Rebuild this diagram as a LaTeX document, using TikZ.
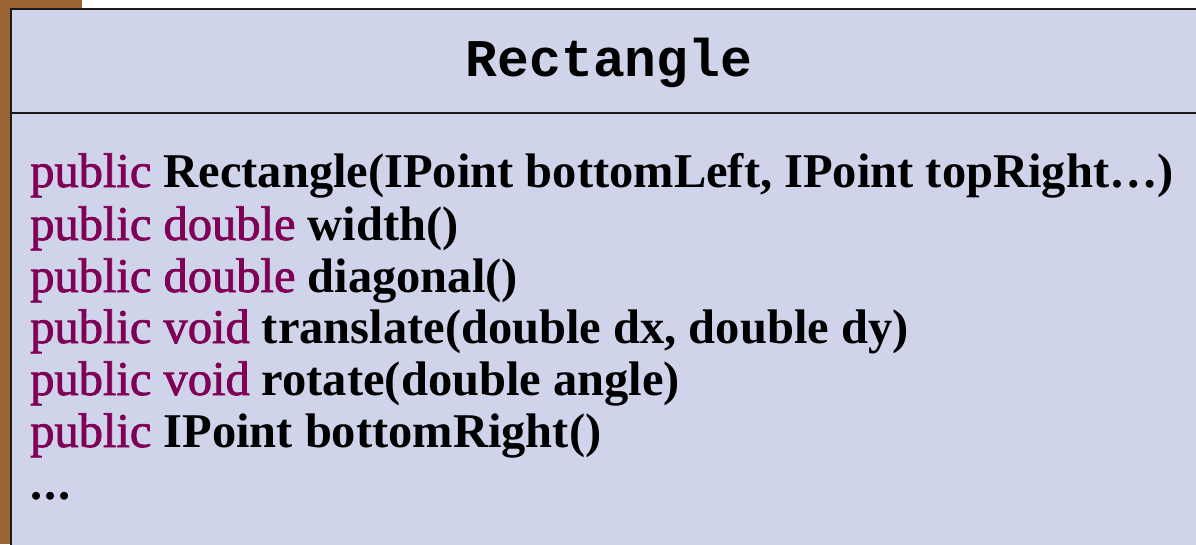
\documentclass[tikz,border=0pt]{standalone}
\usepackage{fontspec}
\setmainfont{Liberation Serif}
\newfontfamily\titlefont{Liberation Mono}
\newfontfamily\kwfont[FakeBold=1.6]{Liberation Serif}
\definecolor{boxfill}{HTML}{CFD4EA}
\definecolor{brownbg}{HTML}{9A6434}
\definecolor{kw}{HTML}{7F0055}
\tikzset{
  umlbox/.style={draw=black!90, line width=2pt, fill=boxfill, inner sep=0pt},
  sig/.style={anchor=base west, inner sep=0pt, font=\fontsize{48.5}{52}\selectfont},
  titletext/.style={anchor=base, inner sep=0pt, font=\fontsize{53}{60}\titlefont\bfseries}
}
\newcommand{\kwd}[1]{\textcolor{kw}{\kwfont #1}}
\begin{document}
\begin{tikzpicture}[x=1pt,y=-1pt]
\useasboundingbox (0,0) rectangle (1196,544);
\fill[brownbg] (0,0) rectangle (82,544);
\node[umlbox, anchor=north west, minimum width=1220pt, minimum height=560pt] (box) at (9.5,7.5) {};
\coordinate (d1) at (9.5,113);
\coordinate (d2) at (1229.5,113);
\draw[black!90, line width=2pt] (d1) -- (d2);
\node[titletext] (title) at (609,76) {Rectangle};
\node[sig] (l1) at (30,187) {\kwd{public} \textbf{Rectangle(IPoint bottomLeft, IPoint topRight…)}};
\node[sig] (l2) at (30,240) {\kwd{public double} \textbf{width()}};
\node[sig] (l3) at (30,292) {\kwd{public double} \textbf{diagonal()}};
\node[sig] (l4) at (30,343) {\kwd{public void} \textbf{translate(double dx, double dy)}};
\node[sig] (l5) at (30,395) {\kwd{public void} \textbf{rotate(double angle)}};
\node[sig] (l6) at (30,447) {\kwd{public} \textbf{IPoint bottomRight()}};
\node[sig] (l7) at (30,499) {\textbf{.\kern2pt.\kern2pt.}};
\end{tikzpicture}
\end{document}
